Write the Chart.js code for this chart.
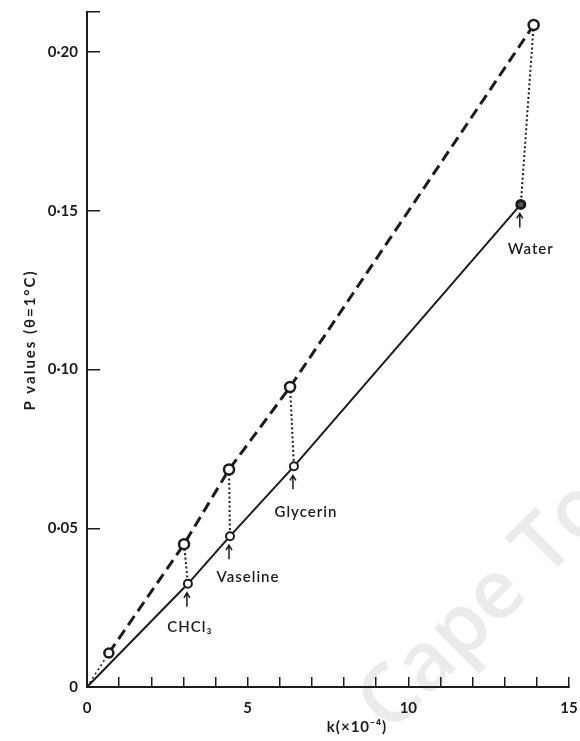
<!DOCTYPE html>
<html>
<head>
<meta charset="utf-8">
<script src="https://cdn.jsdelivr.net/npm/chart.js@4.4.1/dist/chart.umd.min.js"></script>
<style>
  html, body { margin: 0; padding: 0; background: #fff; }
  #wrap { width: 580px; height: 741px; position: relative; }
</style>
</head>
<body>
<div id="wrap"><canvas id="chart"></canvas></div>
<script>
// substances measured, k in units of 10^-4
const substances = ['CHCl₃', 'Vaseline', 'Glycerin', 'Water'];
const kLower = [3.14, 4.45, 6.44, 13.5];
const pLower = [0.0325, 0.0475, 0.0695, 0.152];
const kUpper = [3.02, 4.42, 6.32, 13.9];
const pUpper = [0.045, 0.0685, 0.0945, 0.2085];
// start of the dashed series (origin + first reading)
const kStart = [0, 0.68];
const pStart = [0, 0.0107];

const xTicks = [0, 1, 2, 3, 4, 5, 6, 7, 8, 9, 10, 11, 12, 13, 14, 15];
const xTickLabels = { 0: '0', 5: '5', 10: '10', 15: '15' };
const yTicks = [0, 0.05, 0.10, 0.15, 0.20, 0.2126];
const yTickLabels = ['0', '0·05', '0·10', '0·15', '0·20', ''];

const INK = '#1c1c1c';
const FONT = 'Lato, "Open Sans", sans-serif';

const upperData = kStart.map((k, i) => ({ x: k, y: pStart[i] }))
  .concat(kUpper.map((k, i) => ({ x: k, y: pUpper[i] })));
const lowerData = [{ x: 0, y: 0 }].concat(kLower.map((k, i) => ({ x: k, y: pLower[i] })));

const connectors = substances.map((name, i) => ({
  data: [{ x: kUpper[i], y: pUpper[i] }, { x: kLower[i], y: pLower[i] }],
  showLine: true,
  borderColor: INK,
  borderWidth: 2,
  borderDash: [2, 2.5],
  pointRadius: 0,
  order: 5
}));

// keep the plot area fixed; labels are allowed to hang over the edges
const noPad = s => {
  s.paddingTop = 0;
  s.paddingRight = 0;
  s.paddingLeft = 0;
  s.paddingBottom = 0;
};

const labelPlugin = {
  id: 'labels',
  beforeDraw(chart) {
    const ctx = chart.ctx;
    ctx.save();
    ctx.fillStyle = '#ebebeb';
    ctx.font = '600 82px "Open Sans", sans-serif';
    ctx.translate(390, 735);
    ctx.rotate(-Math.PI / 4);
    ctx.fillText('Cape To', 0, 0);
    ctx.restore();
  },
  afterDatasetsDraw(chart) {
    const ctx = chart.ctx;
    const pts = chart.getDatasetMeta(1).data;
    const dx = [2, 18, 12, 10];
    const dy = [43, 41, 46, 45];
    ctx.save();
    ctx.fillStyle = INK;
    ctx.strokeStyle = INK;
    ctx.lineWidth = 1.5;
    ctx.font = '600 15px ' + FONT;
    ctx.letterSpacing = '1px';
    ctx.textAlign = 'center';
    ctx.textBaseline = 'middle';
    substances.forEach((name, i) => {
      const p = pts[i + 1];
      const ax = p.x - 1;
      const head = p.y + 9;
      const tail = p.y + 23;
      ctx.beginPath();
      ctx.moveTo(ax, tail);
      ctx.lineTo(ax, head);
      ctx.moveTo(ax - 3, head + 5);
      ctx.lineTo(ax, head);
      ctx.lineTo(ax + 3, head + 5);
      ctx.stroke();
      ctx.fillText(name, p.x + dx[i], p.y + dy[i]);
    });

    // axis titles
    ctx.font = 'bold 15px ' + FONT;
    ctx.fillText('k(×10⁻⁴)', 357, 727);
    ctx.translate(30, 340);
    ctx.rotate(-Math.PI / 2);
    ctx.letterSpacing = '2px';
    ctx.fillText('P values (θ=1°C)', 0, 0);
    ctx.restore();
  }
};

new Chart(document.getElementById('chart'), {
  type: 'scatter',
  data: {
    datasets: [
      {
        data: upperData,
        showLine: true,
        borderColor: INK,
        borderWidth: 3,
        borderDash: [11, 6],
        segment: {
          borderDash: c => c.p0DataIndex === 0 ? [2, 3] : [11, 6],
          borderWidth: c => c.p0DataIndex === 0 ? 1.5 : 3
        },
        pointRadius: [0, 4.5, 5, 5, 5, 5],
        pointBorderWidth: 2.5,
        pointBorderColor: INK,
        pointBackgroundColor: '#fff',
        order: 1
      },
      {
        data: lowerData,
        showLine: true,
        borderColor: INK,
        borderWidth: 2,
        pointRadius: [0, 4, 4, 4, 4],
        pointBorderWidth: [2, 2, 2, 2, 3],
        pointBorderColor: INK,
        pointBackgroundColor: ['#fff', '#fff', '#fff', '#fff', '#555'],
        order: 2
      },
      ...connectors
    ]
  },
  options: {
    responsive: true,
    maintainAspectRatio: false,
    animation: false,
    layout: { padding: { top: 12, right: 11, left: 0, bottom: 0 } },
    plugins: { legend: { display: false }, tooltip: { enabled: false } },
    scales: {
      x: {
        type: 'linear',
        min: 0,
        max: 15,
        afterBuildTicks: s => { s.ticks = xTicks.map(v => ({ value: v })); },
        afterFit: s => { s.height = 54; noPad(s); },
        border: { display: true, color: INK, width: 2 },
        grid: { drawOnChartArea: false, drawTicks: true, tickLength: -10, color: INK, lineWidth: 1.5 },
        ticks: {
          autoSkip: false,
          maxRotation: 0,
          padding: 22,
          color: INK,
          font: { family: FONT, size: 15, weight: 'bold' },
          callback: v => xTickLabels[v] || ''
        }
      },
      y: {
        type: 'linear',
        min: 0,
        max: 0.2126,
        afterBuildTicks: s => { s.ticks = yTicks.map(v => ({ value: v })); },
        afterFit: s => { s.width = 87; noPad(s); },
        border: { display: true, color: INK, width: 2 },
        grid: { drawOnChartArea: false, drawTicks: true, tickLength: -13, color: INK, lineWidth: 1.5 },
        ticks: {
          autoSkip: false,
          padding: 22,
          color: INK,
          font: { family: FONT, size: 15, weight: 'bold' },
          callback: (v, i) => yTickLabels[i]
        }
      }
    }
  },
  plugins: [labelPlugin]
});
</script>
</body>
</html>
